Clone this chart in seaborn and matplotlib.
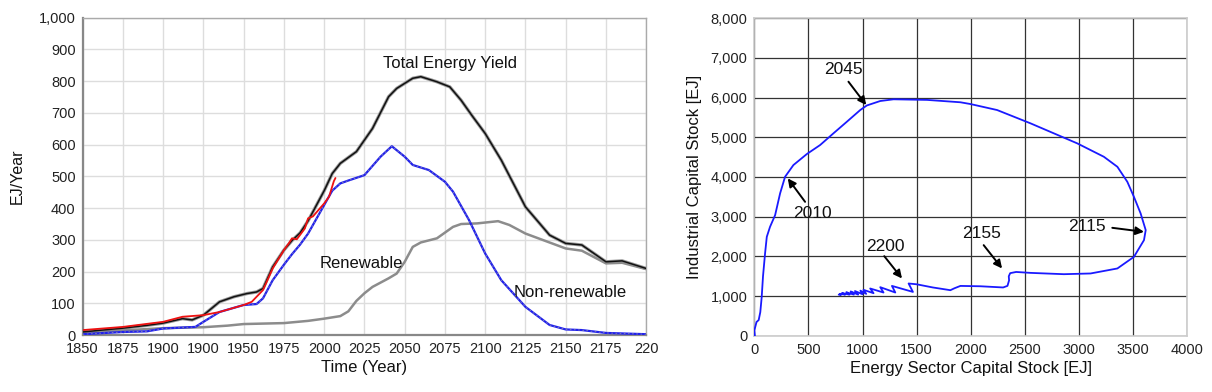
import matplotlib
matplotlib.use("Agg")
import matplotlib.pyplot as plt
import seaborn as sns
import pandas as pd

# ---------------- Left panel data ----------------
total_years = [1850, 1860, 1875, 1890, 1900, 1912, 1918, 1925, 1935, 1944, 1952, 1958, 1962,
               1968, 1975, 1980, 1985, 1990, 2000, 2005, 2010, 2020, 2030, 2040, 2045, 2050,
               2055, 2060, 2070, 2078, 2085, 2092, 2100, 2110, 2125, 2140, 2150, 2160, 2175,
               2185, 2200]
total_vals = [10, 15, 22, 31, 38, 52, 48, 63, 105, 121, 131, 136, 147,
              215, 268, 298, 322, 360, 455, 509, 541, 578, 651, 751, 777, 793,
              809, 814, 798, 782, 740, 690, 635, 551, 404, 315, 289, 284, 231,
              234, 210]

renew_years = [1850, 1875, 1900, 1925, 1940, 1950, 1975, 1990, 2000, 2010, 2015, 2020, 2025,
               2030, 2040, 2045, 2050, 2055, 2060, 2070, 2080, 2085, 2095, 2108, 2115, 2125,
               2150, 2160, 2175, 2185, 2200]
renew_vals = [8, 15, 22, 25, 30, 35, 38, 45, 52, 60, 75, 108, 132,
              152, 179, 194, 231, 278, 292, 305, 341, 350, 352, 359, 347, 320,
              273, 266, 226, 228, 208]

nonren_years = [1850, 1875, 1890, 1900, 1920, 1925, 1935, 1950, 1958, 1962, 1968, 1975, 1980,
                1985, 1990, 1995, 2000, 2005, 2010, 2015, 2025, 2035, 2042, 2050, 2055, 2065,
                2075, 2080, 2090, 2100, 2110, 2125, 2140, 2150, 2160, 2175, 2200]
nonren_vals = [3, 10, 12, 21, 26, 42, 73, 95, 98, 116, 173, 222, 255,
               285, 320, 365, 410, 455, 478, 487, 504, 562, 595, 562, 536, 520,
               483, 452, 362, 257, 173, 89, 32, 18, 16, 7, 3]

hist_years = [1850, 1875, 1900, 1912, 1925, 1935, 1950, 1955, 1962, 1968, 1975, 1978, 1980,
              1983, 1988, 1990, 1993, 2000, 2003, 2006, 2007]
hist_vals = [16, 26, 42, 58, 63, 73, 95, 105, 142, 210, 268, 289, 305,
             302, 336, 368, 374, 415, 436, 485, 495]

left_xticks = [1850, 1875, 1900, 1925, 1950, 1975, 2000, 2025, 2050, 2075, 2100, 2125, 2150, 2175, 2200]
left_xticklabels = ["1850", "1875", "1900", "1900", "1950", "1975", "2000", "2025", "2050",
                    "2075", "2100", "2125", "2150", "2175", "220"]
left_yticks = [0, 100, 200, 300, 400, 500, 600, 700, 800, 900, 1000]
left_yticklabels = ["0", "100", "200", "300", "400", "500", "600", "700", "800", "900", "1,000"]

# ---------------- Right panel data ----------------
energy_stock = [5, 0, 20, 40, 55, 68, 80, 99, 115, 145, 192, 238, 284, 361, 485, 608, 731, 855,
                979, 1040, 1164, 1287, 1596, 1905, 1997, 2244, 2553, 2985, 3231, 3356, 3448,
                3509, 3571, 3618, 3602, 3509, 3356, 3108, 2861, 2553, 2420, 2365, 2352, 2355,
                2340, 2300, 2090, 1905, 1850, 1812, 1780, 1650, 1500, 1426, 1466, 1272, 1303,
                1164, 1194, 1071, 1102, 1009, 1034, 980, 1000, 930, 960, 890, 920, 850, 880,
                810, 840, 790, 800, 780]
industrial_stock = [0, 140, 350, 400, 600, 980, 1500, 2075, 2494, 2746, 3040, 3587, 4005, 4300,
                    4577, 4804, 5098, 5390, 5685, 5800, 5912, 5955, 5940, 5880, 5836, 5685,
                    5350, 4846, 4509, 4257, 3879, 3501, 3083, 2663, 2411, 1990, 1698, 1572,
                    1554, 1587, 1610, 1580, 1500, 1400, 1260, 1220, 1250, 1259, 1200, 1151,
                    1165, 1220, 1300, 1320, 1108, 1259, 1093, 1227, 1093, 1194, 1076, 1160,
                    1059, 1140, 1050, 1130, 1040, 1120, 1040, 1100, 1040, 1080, 1040, 1060,
                    1030, 1040]

right_xticks = [0, 500, 1000, 1500, 2000, 2500, 3000, 3500, 4000]
right_yticks = [0, 1000, 2000, 3000, 4000, 5000, 6000, 7000, 8000]
right_yticklabels = ["0", "1,000", "2,000", "3,000", "4,000", "5,000", "6,000", "7,000", "8,000"]

# annotations: (label, text pos, arrow tail, arrow head)
year_labels = ["2045", "2010", "2200", "2155", "2115"]
label_pos = [(821, 6693), (540, 3083), (1210, 2242), (2096, 2580), (3078, 2746)]
arrow_tail = [(870, 6398), (469, 3375), (1201, 2008), (2120, 2285), (3309, 2721)]
arrow_head = [(1034, 5811), (309, 3965), (1365, 1446), (2290, 1698), (3602, 2620)]

# ---------------- Figure ----------------
sns.set_theme(style="white")
plt.rcParams['font.family'] = ['Liberation Sans', 'DejaVu Sans']

fig = plt.figure(figsize=(12.12, 3.92), dpi=100)
ax1 = fig.add_axes([0.0682, 0.145, 0.465, 0.810])
ax2 = fig.add_axes([0.6224, 0.143, 0.357, 0.811])

# Left panel
df_total = pd.DataFrame({"Year": total_years, "EJ": total_vals})
df_renew = pd.DataFrame({"Year": renew_years, "EJ": renew_vals})
df_nonren = pd.DataFrame({"Year": nonren_years, "EJ": nonren_vals})
df_hist = pd.DataFrame({"Year": hist_years, "EJ": hist_vals})

kw = dict(estimator=None, sort=False)
sns.lineplot(data=df_total, x="Year", y="EJ", ax=ax1, color="#9a9a9a", linewidth=2.4, zorder=3, **kw)
sns.lineplot(data=df_total, x="Year", y="EJ", ax=ax1, color="#111111", linewidth=1.1, zorder=4, **kw)
sns.lineplot(data=df_renew, x="Year", y="EJ", ax=ax1, color="#8c8c8c", linewidth=1.8, zorder=3, **kw)
sns.lineplot(data=df_nonren, x="Year", y="EJ", ax=ax1, color="#2020ee", linewidth=1.6, zorder=3, **kw)
sns.lineplot(data=df_nonren, x="Year", y="EJ", ax=ax1, color="#8888aa", linewidth=0.6,
             linestyle=(0, (2, 3)), zorder=4, **kw)
sns.lineplot(data=df_hist, x="Year", y="EJ", ax=ax1, color="#ee1111", linewidth=1.3, zorder=5, **kw)

ax1.set_xlim(1850, 2200)
ax1.set_ylim(0, 1000)
ax1.set_xticks(left_xticks)
ax1.set_xticklabels(left_xticklabels, fontsize=10.5, color="#222222")
ax1.set_yticks(left_yticks)
ax1.set_yticklabels(left_yticklabels, fontsize=10.5, color="#222222")
ax1.grid(True, color="#dddddd", linewidth=1.0)
ax1.set_axisbelow(True)
ax1.set_xlabel("Time (Year)", fontsize=12, color="#111111", labelpad=3)
ax1.set_ylabel("EJ/Year", fontsize=11.5, color="#111111", labelpad=10)
ax1.tick_params(axis="both", length=0, pad=5)
for side in ["top", "right"]:
    ax1.spines[side].set_color("#aaaaaa")
    ax1.spines[side].set_linewidth(1.0)
for side in ["left", "bottom"]:
    ax1.spines[side].set_color("#888888")
    ax1.spines[side].set_linewidth(1.6)

ax1.text(2078, 856, "Total Energy Yield", fontsize=12, ha="center", va="center", color="#111111")
ax1.text(2023, 226, "Renewable", fontsize=12, ha="center", va="center", color="#111111")
ax1.text(2152.5, 135, "Non-renewable", fontsize=12, ha="center", va="center", color="#111111")

# Right panel
df_phase = pd.DataFrame({"Energy": energy_stock, "Industrial": industrial_stock})
sns.lineplot(data=df_phase, x="Energy", y="Industrial", ax=ax2, sort=False, estimator=None,
             color="#1a1aff", linewidth=1.3, zorder=3)
ax2.set_xlim(0, 4000)
ax2.set_ylim(0, 8000)
ax2.set_xticks(right_xticks)
ax2.set_xticklabels([str(v) for v in right_xticks], fontsize=10.5, color="#222222")
ax2.set_yticks(right_yticks)
ax2.set_yticklabels(right_yticklabels, fontsize=10.5, color="#222222")
ax2.grid(True, color="#333333", linewidth=0.9)
ax2.set_axisbelow(True)
ax2.set_xlabel("Energy Sector Capital Stock [EJ]", fontsize=12, color="#111111", labelpad=3)
ax2.set_ylabel("Industrial Capital Stock [EJ]", fontsize=12, color="#111111", labelpad=6)
ax2.tick_params(axis="both", length=0, pad=5)
for side in ["top", "right", "left", "bottom"]:
    ax2.spines[side].set_color("#cccccc")
    ax2.spines[side].set_linewidth(1.2)

for lab, (tx, ty), (ax_, ay_), (hx, hy) in zip(year_labels, label_pos, arrow_tail, arrow_head):
    ax2.text(tx, ty, lab, fontsize=12.5, ha="center", va="center", color="#111111", zorder=6)
    ax2.annotate("", xy=(hx, hy), xytext=(ax_, ay_),
                 arrowprops=dict(arrowstyle="-|>", color="black", lw=1.4,
                                 mutation_scale=12, shrinkA=0, shrinkB=0), zorder=6)

fig.savefig("out.png", dpi=100)
